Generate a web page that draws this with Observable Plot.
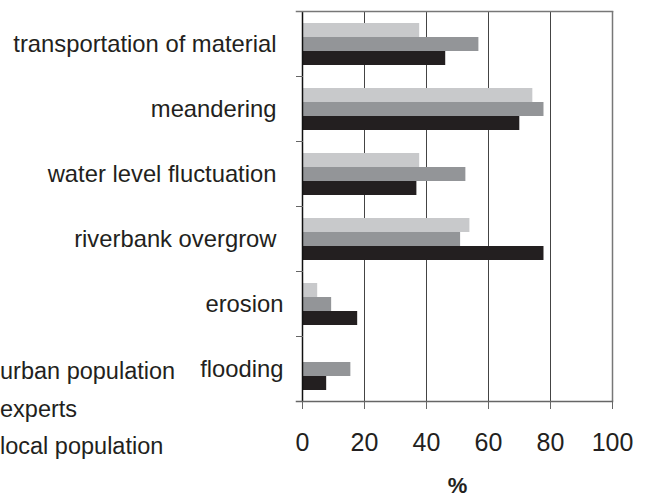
<!DOCTYPE html>
<html>
<head>
<meta charset="utf-8">
<script src="https://cdn.jsdelivr.net/npm/d3@7"></script>
<script src="https://cdn.jsdelivr.net/npm/@observablehq/plot@0.6"></script>
<style>
  html, body { margin: 0; padding: 0; background: #fff; }
  #wrap { position: relative; width: 650px; height: 496px; overflow: hidden; font-family: "Liberation Sans", Arial, sans-serif; color: #231f20; }
  #legend { position: absolute; left: 0px; top: 353px; font-size: 23.5px; line-height: 37.5px; }
  #legend div { white-space: nowrap; }
</style>
</head>
<body>
<div id="wrap"><div id="chart"></div><div id="legend"></div></div>
<script>
const categories = ["transportation of material", "meandering", "water level fluctuation", "riverbank overgrow", "erosion", "flooding"];
const series = ["urban population", "experts", "local population"];
const urban = [37.8, 74.3, 37.8, 54.0, 4.9, 0];
const experts = [56.9, 77.9, 52.7, 51.0, 9.4, 15.6];
const local = [46.2, 70.1, 36.9, 77.9, 17.8, 7.8];
const xTicks = [0, 20, 40, 60, 80, 100];
const colors = ["#c8c9cb", "#939598", "#231f20"];

const values = [urban, experts, local];
const data = [];
categories.forEach((c, i) => series.forEach((s, j) => data.push({category: c, series: s, value: values[j][i]})));

const chart = Plot.plot({
  width: 650,
  height: 496,
  marginLeft: 302,
  marginRight: 38,
  marginTop: 10,
  marginBottom: 94,
  style: {fontFamily: "'Liberation Sans', Arial, sans-serif", color: "#231f20", background: "#fff", overflow: "visible"},
  x: {domain: [0, 100]},
  y: {domain: series, axis: null, paddingInner: 0, paddingOuter: 0.8},
  fy: {domain: categories, padding: 0, axis: null, label: null},
  color: {domain: series, range: colors},
  marks: [
    Plot.gridX({ticks: [20, 40, 60, 80], stroke: "#444", strokeOpacity: 1, strokeWidth: 1}),
    Plot.barX(data, {x: "value", y: "series", fy: "category", fill: "series", inset: 0}),
    Plot.ruleX([100], {stroke: "#777", strokeWidth: 1.5}),
    Plot.ruleX([0], {stroke: "#111", strokeWidth: 1.5}),
    Plot.frame({anchor: "top", stroke: "#666", insetLeft: -6, insetRight: 310}),
    Plot.frame({anchor: "top", facetAnchor: "top", stroke: "#777", strokeWidth: 1.5, insetLeft: -6}),
    Plot.frame({anchor: "bottom", facetAnchor: "bottom", stroke: "#666", strokeWidth: 1.5, insetLeft: -6}),
    Plot.axisX({ticks: xTicks, tickSize: 8, tickPadding: 24, fontSize: 25, label: null, stroke: "#666", fill: "#231f20"}),
    Plot.text(categories.slice(0, 4), {fy: d => d, text: d => d, frameAnchor: "left", textAnchor: "end", dx: -26, fontSize: 23.8, fill: "#231f20"}),
    Plot.text(categories.slice(4), {fy: d => d, text: d => d, frameAnchor: "left", textAnchor: "end", dx: -19, fontSize: 23.8, fill: "#231f20"}),
    Plot.text(["%"], {frameAnchor: "bottom", facetAnchor: "bottom", dy: 91, fontSize: 22, fontWeight: "bold", fill: "#231f20"})
  ]
});
document.getElementById("chart").appendChild(chart);

const legend = document.getElementById("legend");
series.forEach(s => { const d = document.createElement("div"); d.textContent = s; legend.appendChild(d); });
</script>
</body>
</html>
